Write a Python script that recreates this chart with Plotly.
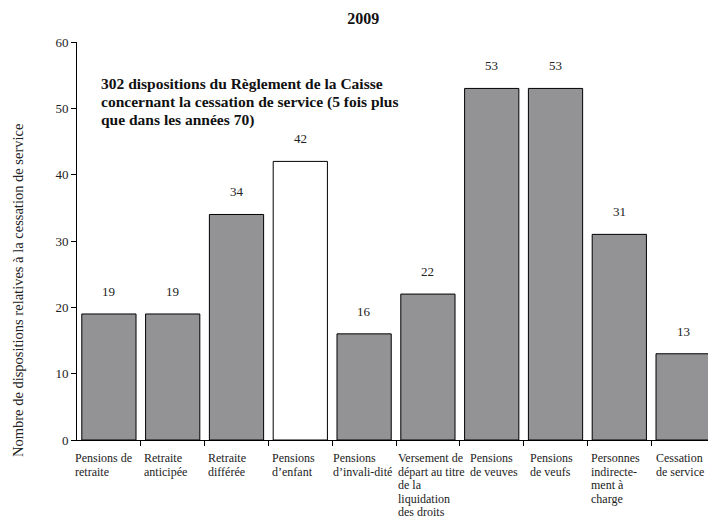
import plotly.graph_objects as go

# Provisions of the Fund's Regulations relating to separation from service, 2009
categories = [
    "Pensions de<br>retraite",
    "Retraite<br>anticipée",
    "Retraite<br>différée",
    "Pensions<br>d’enfant",
    "Pensions<br>d’invali-dité",
    "Versement de<br>départ au titre<br>de la<br>liquidation<br>des droits",
    "Pensions<br>de veuves",
    "Pensions<br>de veufs",
    "Personnes<br>indirecte-<br>ment à<br>charge",
    "Cessation<br>de service",
]
values = [19, 19, 34, 42, 16, 22, 53, 53, 31, 13]
bar_colors = ["#939396"] * 3 + ["#ffffff"] + ["#939396"] * 6
y_ticks = [0, 10, 20, 30, 40, 50, 60]
note_lines = [
    "302 dispositions du Règlement de la Caisse",
    "concernant la cessation de service (5 fois plus",
    "que dans les années 70)",
]

FONT = "Liberation Serif"
positions = list(range(len(categories)))

# horizontal nudge (px) of each category label from its left boundary
label_nudge = [-3, 2, 2, 3, 0, 1, 9, 5, 3, 4]
LABEL_TOP = 18       # px below the axis to the first line's centre
LABEL_LEADING = 13.6 # px between lines of a category label

fig = go.Figure()
fig.add_trace(go.Bar(
    x=positions,
    y=values,
    width=0.85,
    marker=dict(color=bar_colors, line=dict(color="#000000", width=1)),
    showlegend=False,
    hoverinfo="skip",
))

annotations = []
# value labels above each bar
for i, v in zip(positions, values):
    annotations.append(dict(
        x=i, y=v, xref="x", yref="y", text=str(v), showarrow=False,
        yanchor="bottom", yshift=14, borderpad=0,
        font=dict(family=FONT, size=13, color="#222"),
    ))
# category labels under the axis, one annotation per line for tight leading
for i, c, dx in zip(positions, categories, label_nudge):
    for k, line in enumerate(c.split("<br>")):
        annotations.append(dict(
            x=i - 0.5, y=0, xref="x", yref="y", text=line, showarrow=False,
            xanchor="left", yanchor="middle", borderpad=0,
            xshift=dx, yshift=-(LABEL_TOP + k * LABEL_LEADING),
            font=dict(family=FONT, size=12, color="#222"),
        ))
# y-axis title
annotations.append(dict(
    x=0, y=(440 - 291) / 398, xref="paper", yref="paper",
    xanchor="center", yanchor="middle", borderpad=0,
    xshift=-59, textangle=-90, showarrow=False,
    text="Nombre de dispositions relatives à la cessation de service",
    font=dict(family=FONT, size=14.5, color="#222"),
))
# bold note in the upper left of the plot
for k, line in enumerate(note_lines):
    annotations.append(dict(
        x=0, y=1, xref="paper", yref="paper", xanchor="left", yanchor="middle",
        xshift=23, yshift=-(41 + k * 18.5), borderpad=0, showarrow=False,
        text="<b>" + line + "</b>",
        font=dict(family=FONT, size=15.5, color="#111"),
    ))

fig.update_layout(
    width=708, height=518,
    margin=dict(l=77, r=0, t=42, b=78),
    paper_bgcolor="white", plot_bgcolor="white",
    title=dict(text="<b>2009</b>", x=0.513, xref="container", xanchor="center",
               y=1 - 18 / 518, yref="container", yanchor="middle",
               font=dict(family=FONT, size=16, color="#111")),
    annotations=annotations,
    font=dict(family=FONT, color="#222"),
)
fig.update_xaxes(
    range=[-0.5, 9.39],
    tickmode="array",
    tickvals=[p + 0.5 for p in positions],
    ticktext=[""] * len(positions),
    ticks="outside", ticklen=5, tickcolor="#000",
    showline=True, linecolor="#000", linewidth=1,
    showgrid=False, zeroline=False,
)
fig.update_yaxes(
    range=[0, 60],
    tickmode="array", tickvals=y_ticks,
    ticks="outside", ticklen=5, tickcolor="#000",
    tickfont=dict(family=FONT, size=13, color="#222"),
    showline=True, linecolor="#000", linewidth=1,
    showgrid=False, zeroline=False,
)

fig.write_html("out.html")
